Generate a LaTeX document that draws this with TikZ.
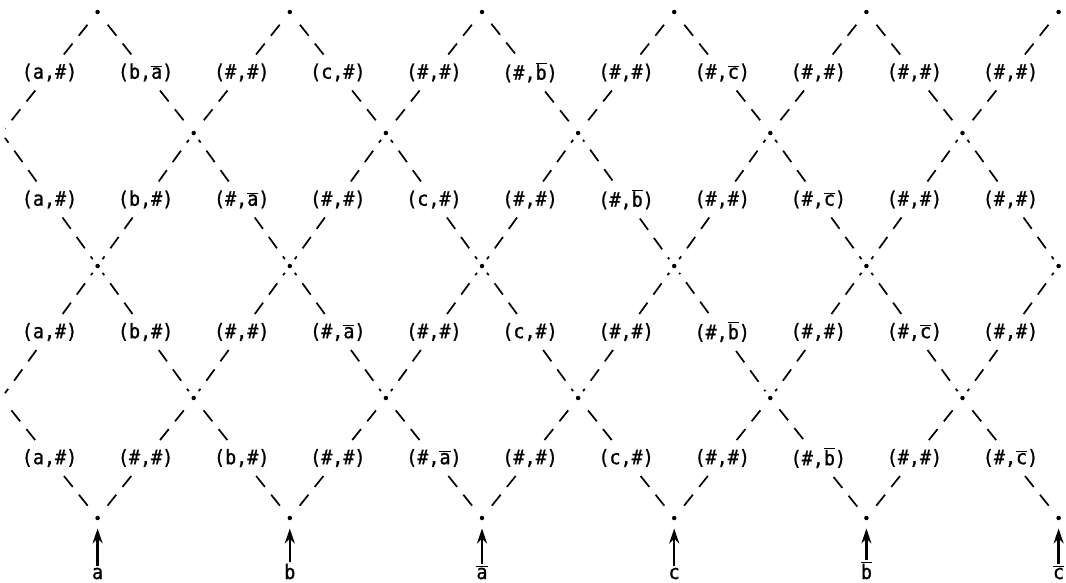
\documentclass[tikz,border=0pt]{standalone}
\usepackage{fontspec}
\setmonofont[FakeStretch=0.92,FakeBold=1]{DejaVu Sans Mono}
\usetikzlibrary{arrows.meta}
\newcommand\ovl[1]{$\overline{\mbox{#1}}$}
\begin{document}
\begin{tikzpicture}[x=1pt,y=-1pt,
  font=\ttfamily\fontsize{20}{22}\selectfont,
  lab/.style={inner xsep=2pt, inner ysep=9pt, outer sep=0pt},
  lat/.style={dash pattern=on 14pt off 10pt, line width=1.7pt, shorten >=6pt},
  dotn/.style={circle, fill, inner sep=0pt, minimum size=4.5pt},
  inlab/.style={anchor=base, inner sep=1.5pt},
  inarrow/.style={-{Stealth[length=15pt,width=10pt]}, line width=2.4pt, shorten >=8pt}]
\useasboundingbox (0,0) rectangle (1066,582);
% lattice vertices
\foreach \n/\y in {0/12,1/133,2/266,3/398,4/518}{
  \foreach \m in {0,...,11}{
    \pgfmathtruncatemacro\pp{mod(\m+\n,2)}
    \ifnum\pp=1
      \ifnum\m=0
        \coordinate (v-\m-\n) at ({1.5+96.1*\m},\y);
      \else
        \node[dotn] (v-\m-\n) at ({1.5+96.1*\m},\y) {};
      \fi
    \fi
  }
}
% labels and lattice connectors
\foreach \n/\y/\row in {
  0/72.5/{{(a,\#)},{(b,\ovl{a})},{(\#,\#)},{(c,\#)},{(\#,\#)},{(\#,\ovl{b})},{(\#,\#)},{(\#,\ovl{c})},{(\#,\#)},{(\#,\#)},{(\#,\#)}},
  1/199.5/{{(a,\#)},{(b,\#)},{(\#,\ovl{a})},{(\#,\#)},{(c,\#)},{(\#,\#)},{(\#,\ovl{b})},{(\#,\#)},{(\#,\ovl{c})},{(\#,\#)},{(\#,\#)}},
  2/332/{{(a,\#)},{(b,\#)},{(\#,\#)},{(\#,\ovl{a})},{(\#,\#)},{(c,\#)},{(\#,\#)},{(\#,\ovl{b})},{(\#,\#)},{(\#,\ovl{c})},{(\#,\#)}},
  3/458/{{(a,\#)},{(\#,\#)},{(b,\#)},{(\#,\#)},{(\#,\ovl{a})},{(\#,\#)},{(c,\#)},{(\#,\#)},{(\#,\ovl{b})},{(\#,\#)},{(\#,\ovl{c})}}}{
  \foreach \t [count=\k from 0] in \row {
    \node[lab] (L-\k-\n) at ({1.5+96.1*(\k+0.5)},\y) {\t};
    \pgfmathtruncatemacro\pp{mod(\k+\n,2)}
    \pgfmathtruncatemacro\mm{\k+1}
    \pgfmathtruncatemacro\nn{\n+1}
    \ifnum\pp=1
      \draw[lat] (L-\k-\n) -- (v-\k-\n);
      \draw[lat] (L-\k-\n) -- (v-\mm-\nn);
    \else
      \draw[lat] (L-\k-\n) -- (v-\mm-\n);
      \draw[lat] (L-\k-\n) -- (v-\k-\nn);
    \fi
  }
}
% inputs
\foreach \m/\t [count=\i] in {1/a,3/b,5/\ovl{a},7/c,9/\ovl{b},11/\ovl{c}}{
  \node[inlab] (in-\i) at ({1.5+96.1*\m},579) {\t};
  \draw[inarrow] (in-\i.north) -- (v-\m-4);
}
\end{tikzpicture}
\end{document}
